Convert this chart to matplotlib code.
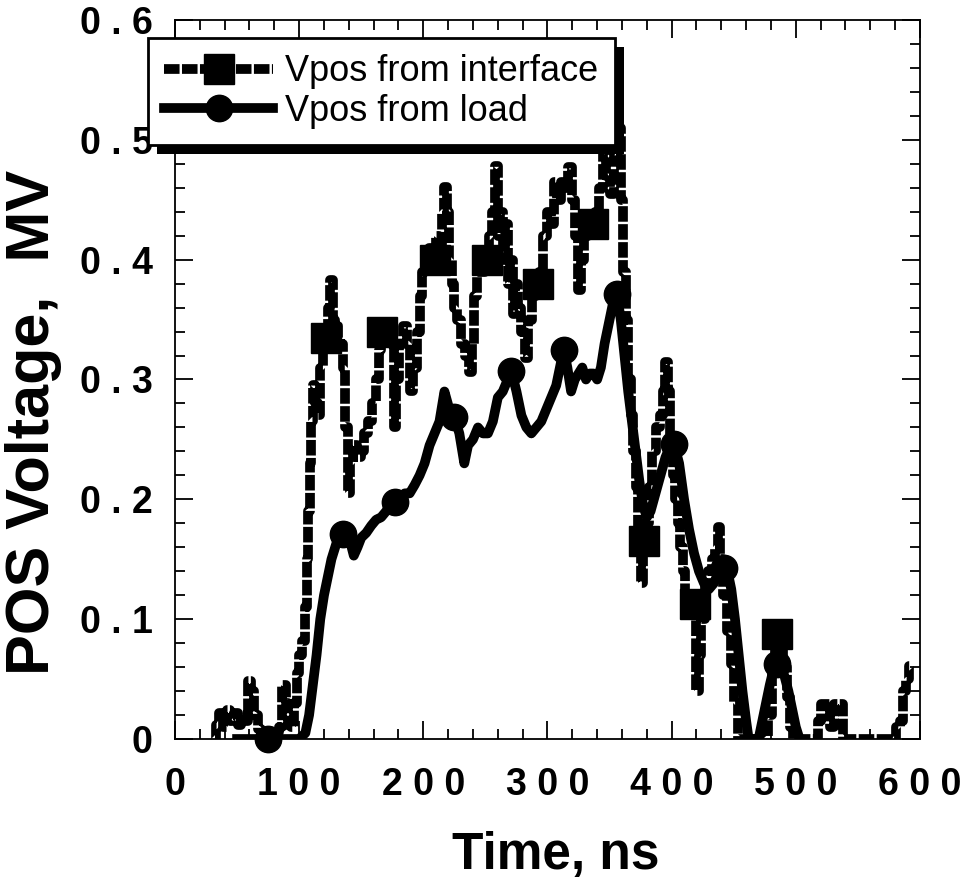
import numpy as np
import matplotlib
matplotlib.use('Agg')
import matplotlib.pyplot as plt
from matplotlib.patches import Rectangle

plt.rcParams['font.family'] = ['Liberation Sans', 'DejaVu Sans']

# Vpos from interface (time in ns, voltage in MV)
t_int = [32, 34, 37, 40, 43, 46, 49, 52, 55, 58, 60, 63, 65, 68, 71, 75, 79, 82, 85, 88,
         90, 92, 95, 97, 99, 101, 104, 106, 107, 108, 109, 110, 112, 114, 116, 118, 120, 122, 124, 126,
         128, 130, 132, 134, 136, 138, 140, 142, 145, 148, 151, 154, 157, 160, 163, 165, 167, 170, 173, 175,
         177, 179, 182, 185, 188, 190, 193, 196, 198, 200, 203, 206, 209, 212, 214, 216, 218, 220, 222, 224,
         226, 229, 232, 235, 238, 240, 242, 245, 248, 251, 254, 256, 259, 261, 263, 265, 267, 269, 271, 273,
         275, 277, 280, 283, 286, 289, 292, 295, 298, 301, 304, 306, 309, 312, 315, 318, 321, 323, 326, 328,
         331, 334, 337, 340, 343, 346, 349, 352, 355, 358, 360, 362, 364, 366, 368, 370, 372, 374, 376, 378,
         380, 383, 386, 389, 392, 394, 396, 398, 400, 402, 404, 406, 408, 410, 412, 415, 417, 419, 421, 423,
         425, 428, 431, 434, 436, 438, 440, 443, 446, 449, 452, 455, 460, 465, 470, 476, 479, 482, 485, 488,
         491, 494, 497, 499, 505, 512, 517, 519, 522, 526, 529, 532, 536, 540, 550, 560, 570, 580, 582, 585,
         588, 590, 592]
v_int = [0.0, 0.012, 0.022, 0.01, 0.024, 0.015, 0.022, 0.012, 0.02, 0.015, 0.048, 0.04, 0.02, 0.008, 0.003, 0.0, 0.0, 0.006, 0.01, 0.045,
         0.03, 0.012, 0.01, 0.03, 0.055, 0.07, 0.082, 0.11, 0.15, 0.19, 0.23, 0.265, 0.295, 0.28, 0.27, 0.31, 0.325, 0.335, 0.36, 0.383,
         0.35, 0.345, 0.335, 0.33, 0.31, 0.26, 0.205, 0.23, 0.245, 0.235, 0.24, 0.255, 0.265, 0.28, 0.30, 0.325, 0.34, 0.335, 0.345, 0.33,
         0.26, 0.30, 0.33, 0.345, 0.33, 0.29, 0.31, 0.34, 0.37, 0.39, 0.40, 0.41, 0.40, 0.42, 0.41, 0.44, 0.461, 0.44, 0.40, 0.38,
         0.36, 0.35, 0.33, 0.32, 0.306, 0.33, 0.37, 0.39, 0.39, 0.40, 0.42, 0.44, 0.478, 0.42, 0.44, 0.40, 0.43, 0.38, 0.40, 0.355,
         0.38, 0.36, 0.34, 0.318, 0.35, 0.37, 0.38, 0.39, 0.42, 0.44, 0.43, 0.465, 0.45, 0.465, 0.46, 0.477, 0.45, 0.42, 0.375, 0.40,
         0.42, 0.43, 0.43, 0.44, 0.46, 0.49, 0.47, 0.455, 0.49, 0.51, 0.45, 0.39, 0.35, 0.30, 0.27, 0.24, 0.21, 0.17, 0.13, 0.165,
         0.18, 0.21, 0.24, 0.26, 0.27, 0.29, 0.315, 0.29, 0.25, 0.22, 0.20, 0.18, 0.16, 0.14, 0.12, 0.115, 0.11, 0.113, 0.04, 0.07,
         0.10, 0.13, 0.14, 0.15, 0.16, 0.177, 0.15, 0.12, 0.09, 0.063, 0.03, 0.0, 0.0, 0.0, 0.0, 0.0, 0.02, 0.06, 0.088, 0.085,
         0.06, 0.035, 0.01, 0.0, 0.0, 0.0, 0.0, 0.015, 0.029, 0.029, 0.01, 0.029, 0.029, 0.0, 0.0, 0.0, 0.0, 0.0, 0.01, 0.015,
         0.04, 0.05, 0.061]
t_int_marks = [122, 167, 209, 251, 292, 337, 378, 419, 485]

# Vpos from load
t_load = [50, 60, 75, 90, 100, 105, 108, 111, 114, 117, 120, 123, 126, 129, 132, 135, 138, 141, 144, 147,
          150, 154, 158, 162, 166, 170, 174, 177, 181, 185, 189, 193, 197, 201, 205, 209, 213, 217, 221, 225,
          229, 233, 236, 240, 244, 248, 252, 256, 260, 264, 268, 271, 275, 279, 283, 287, 291, 295, 299, 303,
          307, 310, 313, 316, 319, 322, 325, 328, 331, 334, 337, 340, 343, 346, 350, 353, 356, 359, 362, 365,
          368, 371, 374, 377, 380, 383, 387, 391, 395, 399, 402, 406, 410, 414, 418, 422, 426, 430, 434, 438,
          442, 445, 448, 451, 454, 457, 460, 462, 466, 470, 473, 476, 479, 482, 485, 488, 491, 494, 497, 500,
          503]
v_load = [0.0, 0.0, 0.0, 0.0, 0.0, 0.005, 0.02, 0.045, 0.07, 0.1, 0.12, 0.135, 0.15, 0.16, 0.17, 0.171, 0.17, 0.165, 0.153, 0.16,
          0.168, 0.172, 0.178, 0.183, 0.185, 0.19, 0.197, 0.198, 0.2, 0.205, 0.205, 0.212, 0.22, 0.23, 0.245, 0.255, 0.265, 0.29, 0.275, 0.269,
          0.255, 0.23, 0.245, 0.25, 0.26, 0.255, 0.255, 0.265, 0.285, 0.29, 0.30, 0.307, 0.29, 0.27, 0.26, 0.255, 0.26, 0.265, 0.275, 0.285,
          0.295, 0.31, 0.325, 0.31, 0.29, 0.30, 0.305, 0.31, 0.30, 0.305, 0.305, 0.30, 0.31, 0.33, 0.35, 0.365, 0.371, 0.35, 0.32, 0.29,
          0.265, 0.24, 0.215, 0.195, 0.185, 0.19, 0.205, 0.22, 0.235, 0.245, 0.246, 0.23, 0.2, 0.175, 0.155, 0.14, 0.13, 0.125, 0.13, 0.14,
          0.143, 0.14, 0.125, 0.1, 0.07, 0.04, 0.015, 0.0, 0.0, 0.0, 0.015, 0.03, 0.045, 0.058, 0.063, 0.06, 0.052, 0.04, 0.025, 0.01,
          0.0]
t_load_marks = [75, 135, 177, 225, 271, 313, 356, 402, 442, 485]

x_ticks = [0, 100, 200, 300, 400, 500, 600]
x_tick_labels = ['0', '1 0 0', '2 0 0', '3 0 0', '4 0 0', '5 0 0', '6 0 0']
y_ticks = [0, 0.1, 0.2, 0.3, 0.4, 0.5, 0.6]
y_tick_labels = ['0', '0 . 1', '0 . 2', '0 . 3', '0 . 4', '0 . 5', '0 . 6']

t_int = np.array(t_int)
v_int = np.array(v_int)
t_load = np.array(t_load)
v_load = np.array(v_load)
i_int = np.searchsorted(t_int, t_int_marks)
i_load = np.searchsorted(t_load, t_load_marks)

fig = plt.figure(figsize=(9.78, 8.9), dpi=100)
ax = fig.add_axes([175/978, 1 - 739/890, 745/978, 719/890])

l1, = ax.plot(t_int, v_int, color='black', lw=7, ls=(0, (1.6, 0.25)),
              drawstyle='steps-mid', dash_capstyle='butt')
m1, = ax.plot(t_int[i_int], v_int[i_int], 's', color='black', ms=21, ls='none', clip_on=False)
l2, = ax.plot(t_load, v_load, color='black', lw=7, solid_joinstyle='round')
m2, = ax.plot(t_load[i_load], v_load[i_load], 'o', color='black', ms=19, ls='none', clip_on=False)

ax.set_xlim(0, 600)
ax.set_ylim(0, 0.6)
ax.set_xticks(x_ticks)
ax.set_xticklabels(x_tick_labels, fontsize=27, fontweight='bold')
ax.set_yticks(y_ticks)
ax.set_yticklabels(y_tick_labels, fontsize=27, fontweight='bold')
ax.set_xticks(np.arange(0, 601, 20), minor=True)
ax.set_yticks(np.arange(0, 0.601, 0.02), minor=True)
ax.tick_params(which='both', direction='in', top=True, right=True, width=1.3)
ax.tick_params(which='major', length=13)
ax.tick_params(which='minor', length=7)
ax.tick_params(axis='x', which='major', pad=20)
ax.tick_params(axis='y', which='major', pad=16)
for s in ax.spines.values():
    s.set_linewidth(1.3)

ax.set_xlabel('Time, ns', fontsize=37, fontweight='bold')
ax.xaxis.set_label_coords(0.511, -0.128)
ax.set_ylabel('POS Voltage,  MV', fontsize=44, fontweight='bold')
ax.yaxis.set_label_coords(-0.152, 0.44)

leg = ax.legend(handles=[(l1, m1), (l2, m2)],
                labels=['Vpos from interface', 'Vpos from load'],
                loc='upper left', bbox_to_anchor=(-0.036, 0.975), borderaxespad=0,
                fontsize=26, handlelength=3.0, handletextpad=0.35, borderpad=0.45,
                labelspacing=0.12, fancybox=False, edgecolor='black', framealpha=1)
leg.get_frame().set_linewidth(2)

# heavy black drop shadow behind the legend box
fig.canvas.draw()
bb = leg.get_window_extent().transformed(fig.transFigure.inverted())
dx, dy = 9/978, 9/890
ax.add_patch(Rectangle((bb.x0 + dx, bb.y0 - dy), bb.width, bb.height, transform=fig.transFigure,
                       facecolor='black', edgecolor='none', clip_on=False, zorder=leg.get_zorder() - 0.1))

fig.savefig('out.png', dpi=100)
